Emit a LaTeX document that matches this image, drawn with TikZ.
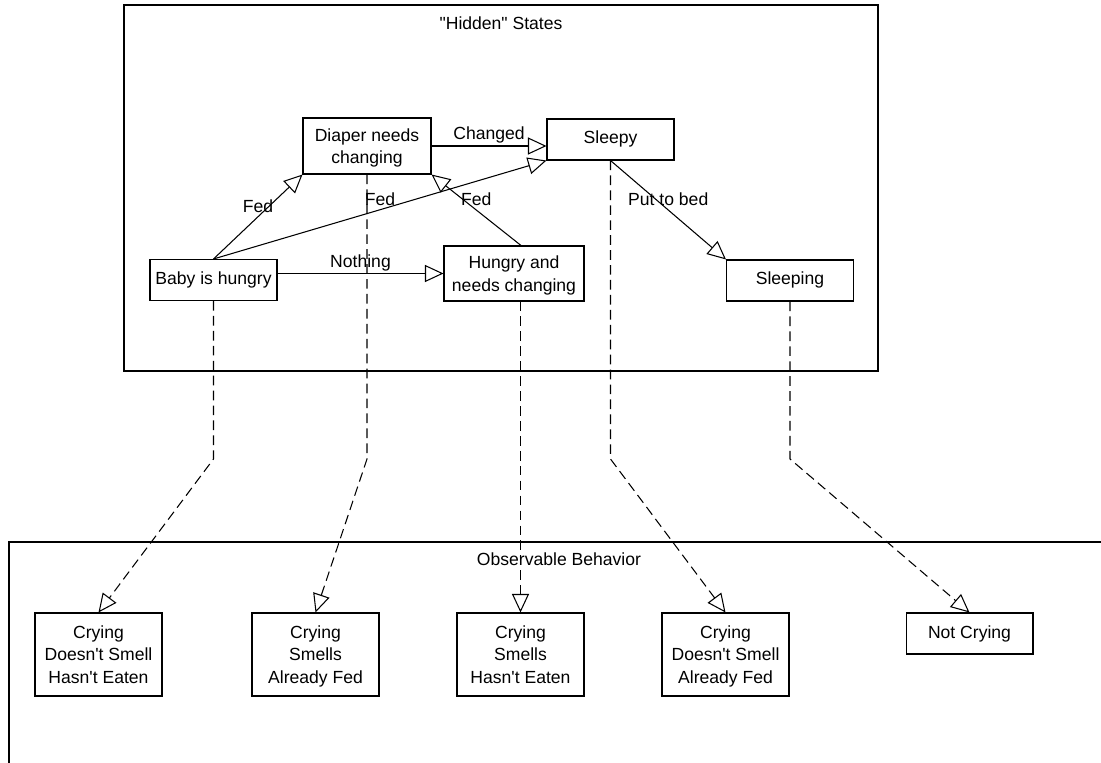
\documentclass[tikz,border=0pt]{standalone}
\usepackage{fontspec}
\setmainfont{Liberation Sans}
\usetikzlibrary{arrows.meta}

\tikzset{
  hstate/.style={draw, line width=0.6pt, align=center, inner sep=0pt,
    minimum width=2.54cm, minimum height=0.82cm,
    execute at begin node=\strut, execute at end node=\strut},
  twolines/.style={text height=23pt, text depth=3pt},
  threelines/.style={text height=36pt, text depth=3.2pt, minimum height=1.66cm},
  trans/.style={line width=0.6pt, -{Triangle[open, length=3.7mm, width=3.4mm]}},
  emits/.style={trans, dash pattern=on 5.5pt off 3pt},
  lbl/.style={midway, yshift=0.22cm},
}

\begin{document}
\begin{tikzpicture}[x=0.02cm, y=-0.02cm, font=\fontsize{10}{12.8}\selectfont]
            \useasboundingbox (0,0) rectangle (1101,763);
            % frames
            \draw[line width=0.7pt] (124,5) rectangle (878,371);
            \node (hiddentitle) at (501,23) {\textquotedbl Hidden\textquotedbl{} States};
            \draw[line width=0.7pt] (9,763) |- (1101,542);
            \node (obstitle) at (559,559) {Observable Behavior};
            % hidden states
            \node[hstate] (baby) at (213.5,280) {Baby is hungry};
            \node[hstate, twolines, minimum width=2.56cm, minimum height=1.12cm] (diaper) at (367,146) {Diaper needs\\changing};
            \node[hstate] (sleepy) at (610.5,139.5) {Sleepy};
            \node[hstate, twolines, minimum width=2.8cm, minimum height=1.1cm] (hungry) at (514,273.5) {Hungry and\\needs changing};
            \node[hstate] (sleeping) at (790,280.5) {Sleeping};
            % observations
            \node[hstate, threelines] (cry1) at (98.5,654.5) {Crying\\Doesn\textquotesingle t Smell\\Hasn\textquotesingle t Eaten};
            \node[hstate, threelines] (cry2) at (315.5,654.5) {Crying\\Smells\\Already Fed};
            \node[hstate, threelines] (cry3) at (520.5,654.5) {Crying\\Smells\\Hasn\textquotesingle t Eaten};
            \node[hstate, threelines] (cry4) at (725.5,654.5) {Crying\\Doesn\textquotesingle t Smell\\Already Fed};
            \node[hstate] (calm) at (969.5,633.5) {Not Crying};
            \coordinate (bend) at (0,459);
            % transitions
            \draw[trans] (baby.north) -- (diaper.south west) node[lbl] {Fed};
            \draw[trans] (baby.north) -- (sleepy.south west) node[lbl] {Fed};
            \draw[trans] ([xshift=0.14cm]hungry.north) -- (diaper.south east) node[lbl] {Fed};
            \draw[trans] (baby.east |- hungry.west) -- (hungry.west) node[lbl] {Nothing};
            \draw[trans] (diaper.east) -- (diaper.east -| sleepy.west) node[lbl] {Changed};
            \draw[trans] (sleepy.south) -- (sleeping.north west) node[lbl] {Put to bed};
            % emissions
            \draw[emits] (baby.south) -- (baby.south |- bend) -- (cry1.north);
            \draw[emits] (diaper.south) -- (diaper.south |- bend) -- (cry2.north);
            \draw[emits] (cry3.north |- hungry.south) -- (cry3.north);
            \draw[emits] (sleepy.south) -- (sleepy.south |- bend) -- (cry4.north);
            \draw[emits] (sleeping.south) -- (sleeping.south |- bend) -- (calm.north);
        \end{tikzpicture}
\end{document}
